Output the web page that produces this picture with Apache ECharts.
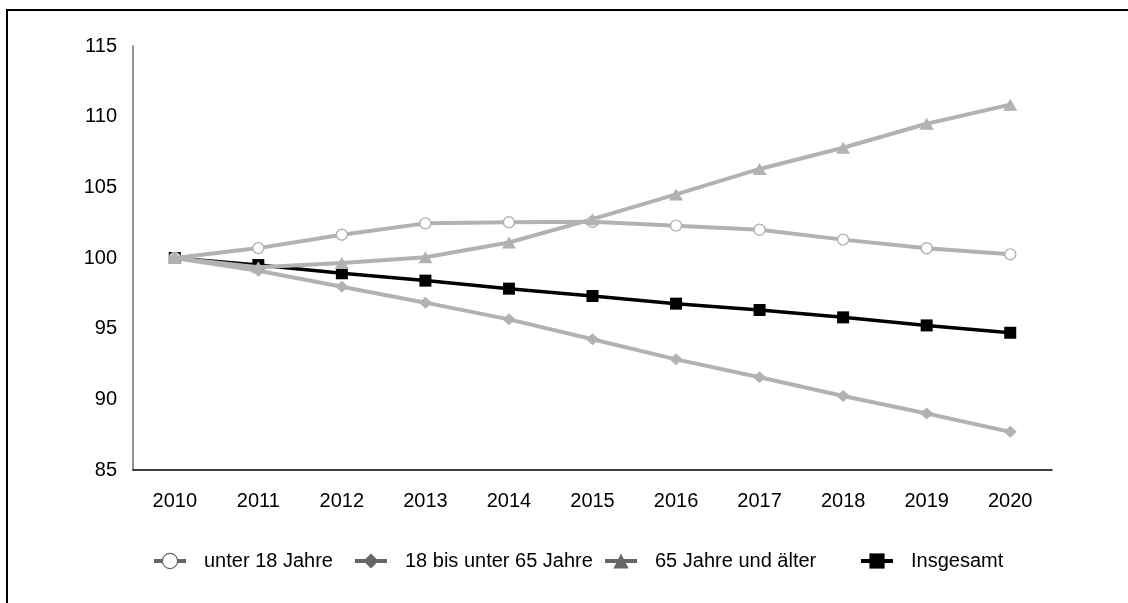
<!DOCTYPE html>
<html>
<head>
<meta charset="utf-8">
<script src="https://cdn.jsdelivr.net/npm/echarts@6/dist/echarts.min.js"></script>
<style>
  html, body { margin: 0; padding: 0; background: #fff; overflow: hidden; width: 1128px; height: 603px; }
  #frame { position: absolute; left: 6px; top: 9px; width: 1122px; height: 594px; box-sizing: border-box;
           border-top: 2px solid #000; border-left: 2px solid #000; }
  #chart { position: absolute; left: 0; top: 0; width: 1128px; height: 603px; }
</style>
</head>
<body>
<div id="frame"></div>
<div id="chart"></div>
<script>
const years = ['2010','2011','2012','2013','2014','2015','2016','2017','2018','2019','2020'];
const unter18 = [100, 100.7, 101.65, 102.45, 102.53, 102.56, 102.29, 102.0, 101.3, 100.69, 100.26];
const mittel = [100, 99.1, 97.97, 96.84, 95.66, 94.25, 92.83, 91.56, 90.24, 89.0, 87.7];
const senioren = [100, 99.35, 99.65, 100.05, 101.1, 102.75, 104.5, 106.3, 107.8, 109.5, 110.85];
const insgesamt = [100, 99.5, 98.92, 98.4, 97.83, 97.31, 96.77, 96.32, 95.8, 95.23, 94.71];
const names = ['unter 18 Jahre', '18 bis unter 65 Jahre', '65 Jahre und älter', 'Insgesamt'];

const FONT = 'Liberation Sans, Arial, sans-serif';
const GREY = '#b2b2b2';
const LEG = '#666666';

const legendItems = [
  { name: names[0], itemStyle: { color: '#fff', borderColor: LEG, borderWidth: 1.2 }, lineStyle: { color: LEG, width: 4 } },
  { name: names[1], itemStyle: { color: LEG }, lineStyle: { color: LEG, width: 4 } },
  { name: names[2], itemStyle: { color: LEG }, lineStyle: { color: LEG, width: 4 } },
  { name: names[3], itemStyle: { color: '#000' }, lineStyle: { color: '#000', width: 4 } }
];
const legendLefts = [152, 353, 603, 859];
const legends = legendItems.map((it, i) => ({
  left: legendLefts[i], top: 551, padding: 0,
  itemWidth: 32, itemHeight: 19,
  selectedMode: false,
  textStyle: { color: '#000', fontSize: 20, fontFamily: FONT, padding: [0, 0, 0, 13] },
  data: [it]
}));

const chart = echarts.init(document.getElementById('chart'), null, { renderer: 'canvas' });
chart.setOption({
  animation: false,
  backgroundColor: 'transparent',
  textStyle: { fontFamily: FONT },
  grid: { left: 133, right: 76, top: 46, bottom: 133, containLabel: false },
  xAxis: {
    type: 'category',
    data: years,
    boundaryGap: true,
    axisLine: { lineStyle: { color: '#000', width: 1.5 } },
    axisTick: { show: false },
    axisLabel: { color: '#000', fontSize: 20, fontFamily: FONT, margin: 21 },
    splitLine: { show: false }
  },
  yAxis: {
    type: 'value',
    min: 85, max: 115, interval: 5,
    axisLine: { show: true, lineStyle: { color: '#6f6f6f', width: 1.5 } },
    axisTick: { show: false },
    axisLabel: { color: '#000', fontSize: 20, fontFamily: FONT, margin: 16 },
    splitLine: { show: false }
  },
  legend: legends,
  series: [
    { name: names[3], type: 'line', data: insgesamt, symbol: 'rect', symbolSize: 12, z: 2,
      lineStyle: { color: '#000', width: 3.5 }, itemStyle: { color: '#000' } },
    { name: names[0], type: 'line', data: unter18, symbol: 'circle', symbolSize: 11, z: 3,
      lineStyle: { color: GREY, width: 4 }, itemStyle: { color: '#fff', borderColor: GREY, borderWidth: 1.4 } },
    { name: names[1], type: 'line', data: mittel, symbol: 'diamond', symbolSize: [13, 12], z: 3,
      lineStyle: { color: GREY, width: 4 }, itemStyle: { color: GREY } },
    { name: names[2], type: 'line', data: senioren, symbol: 'triangle', symbolSize: [14, 12], z: 3,
      lineStyle: { color: GREY, width: 4 }, itemStyle: { color: GREY } }
  ]
});
</script>
</body>
</html>
